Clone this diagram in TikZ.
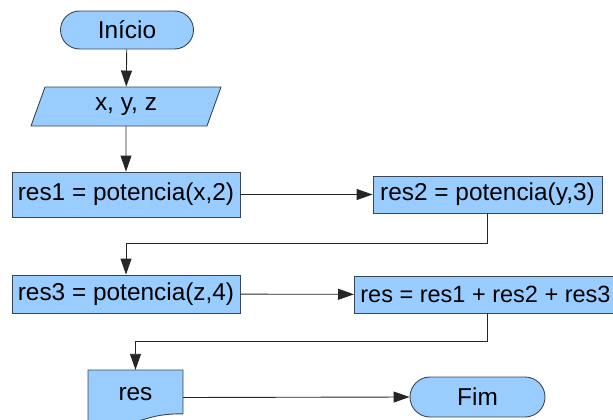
\documentclass[tikz,border=0pt]{standalone}
\usepackage{fontspec}
\setmainfont{Liberation Sans}
\usepackage{tikz}
\usetikzlibrary{shapes.geometric,arrows.meta}

\definecolor{azul}{HTML}{99CCFF}
\definecolor{borda}{HTML}{3A4656}

\tikzset{
  caixa/.style={draw=borda,fill=azul,line width=0.9pt,font=\fontsize{24.4}{26}\selectfont},
  terminal/.style={caixa,rectangle,rounded corners=19pt,minimum width=133pt,minimum height=38pt},
  processo/.style={caixa,rectangle,minimum width=228pt,inner sep=0pt},
  seta/.style={draw=black!85,line width=0.9pt,-{Triangle[length=16pt,width=11pt]}}
}

\begin{document}
\begin{tikzpicture}[x=1pt,y=-1pt]
        \useasboundingbox (0,0) rectangle (613,420);

        \node (inicio)   at (127,30)    [terminal] {Início};
        \node (entrada)  at (126,106.5) [caixa,trapezium,trapezium left angle=52,trapezium right angle=128,
                                         trapezium stretches body,minimum width=190pt,minimum height=39pt,inner sep=0pt] {x, y, z};
        \node (res1)     at (126,194.5) [processo,minimum height=45pt] {res1 = potencia(x,2)};
        \node (res2)     at (487.5,194.5) [processo,minimum width=229pt,minimum height=37pt] {res2 = potencia(y,3)};
        \node (res3)     at (126,294)   [processo,minimum height=38pt] {res3 = potencia(z,4)};
        \node (soma)     at (354,294.5) [processo,anchor=west,minimum width=262pt,minimum height=37pt,
                                         font=\fontsize{23.5}{25}\selectfont] {res = res1 + res2 + res3};

        % documento de saida
        \draw[caixa] (88,370) -- (183,370) -- (183,413.8)
                     .. controls (145.4,413.8) and (146.7,422.9) .. (112.7,425)
                     .. controls (100.6,423.7) and (96.2,422.7) .. (88,421.2) -- cycle;
        \node (saida)    at (135.5,397.5) [minimum width=95pt,minimum height=55pt,text depth=8pt,
                                         font=\fontsize{24.4}{26}\selectfont] {res};

        \node (fim)      at (477.5,397) [terminal,minimum width=135pt,minimum height=40pt,rounded corners=20pt] {Fim};

        \draw[seta] (inicio) -- (entrada);
        \draw[seta] (entrada) -- (res1);
        \draw[seta] (res1) -- (res2);
        \draw[seta] (res2.south) -- ++(0,30) -| (res3.north);
        \draw[seta] (res3) -- (soma);
        \draw[seta] (soma.south -| res2.south) -- ++(0,28) -| (saida.north);
        \draw[seta] (saida.east) -- (fim.west);
\end{tikzpicture}
\end{document}
